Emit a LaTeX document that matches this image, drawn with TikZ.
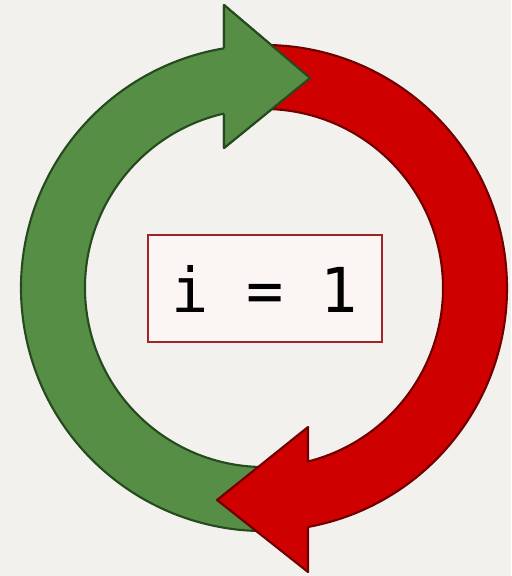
\documentclass[tikz,border=0pt]{standalone}
\usepackage{fontspec}
\newfontfamily\codefont{DejaVu Sans Mono}
\usetikzlibrary{calc}
\definecolor{paper}{RGB}{243,241,237}
\definecolor{grnf}{RGB}{86,142,70}
\definecolor{grnd}{RGB}{36,74,30}
\definecolor{redf}{RGB}{206,0,0}
\definecolor{redd}{RGB}{112,0,0}
\definecolor{boxd}{RGB}{158,36,40}
\definecolor{boxf}{RGB}{251,246,244}
\tikzset{
  garr/.style={fill=grnf,draw=grnd,line width=0.6pt,line join=round},
  rarr/.style={fill=redf,draw=redd,line width=0.6pt,line join=round},
  cnt/.style={draw=boxd,fill=boxf,line width=0.8pt,minimum width=2.34cm,minimum height=1.07cm,inner sep=0pt,font=\codefont\fontsize{17.6}{20}\selectfont},
}
\begin{document}
\begin{tikzpicture}[x=0.01cm,y=0.01cm]
  \fill[paper] (0,0) rectangle (511,-576);
  \useasboundingbox (0,0) rectangle (511,-576);
  \coordinate (c) at (264,-288);
  \coordinate (gu) at (224,-5);
  \coordinate (gt) at (310,-78);
  \coordinate (gl) at (224,-148);
  \coordinate (rl) at (308,-572);
  \coordinate (rt) at (217,-500);
  \coordinate (ru) at (308,-427);
  \draw[garr] ($(c)+(278:243)$) arc[start angle=278,end angle=99.47,radius=243] -- (gu) -- (gt) -- (gl) -- ($(c)+(102.91:179)$) arc[start angle=102.91,end angle=278,radius=179] -- cycle;
  \draw[rarr] ($(c)+(95:243)$) arc[start angle=95,end angle=-79.57,radius=243] -- (rl) -- (rt) -- (ru) -- ($(c)+(-75.77:179)$) arc[start angle=-75.77,end angle=95,radius=179] -- cycle;
  \fill[grnf] (gu) -- (gt) -- (gl) -- cycle;
  \draw[garr,fill=none] ($(c)+(99.47:243)$) -- (gu) -- (gt) -- (gl) -- ($(c)+(102.91:179)$);
  \node[cnt] (ctr) at (265,-288.5) {i = 1};
\end{tikzpicture}
\end{document}
